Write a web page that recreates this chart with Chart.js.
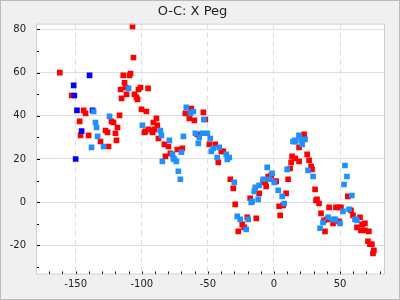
<!DOCTYPE html>
<html>
<head>
<meta charset="utf-8">
<script src="https://cdn.jsdelivr.net/npm/chart.js@4"></script>
<style>
  body { margin: 0; background: #f0f0f0; }
  #wrap { width: 400px; height: 300px; }
</style>
</head>
<body>
<div id="wrap"><canvas id="ocChart" width="400" height="300"></canvas></div>
<script>
// O-C values: [epoch, O-C]
const redPts = [
  [-162, 60], [-114, 58.7], [-109.3, 58.7], [-108.5, 59.6], [-113, 55.3], [-112, 53.1], [-116, 52.2],
  [-101, 53.1], [-102.5, 52.2], [-95.2, 52.7], [-111.5, 49.9], [-105.5, 49.9], [-104, 48.5], [-103.2, 47.6],
  [-115.3, 48.1], [-153, 49.4], [-144, 42.5], [-142.5, 41.1], [-116.8, 40.2], [-100.2, 43], [-96.5, 42],
  [-147, 37.4], [-122.9, 37.4], [-121.4, 36.9], [-118.3, 34.6], [-95, 33.7], [-97.2, 32.8], [-98, 32.3],
  [-146.3, 30.9], [-140.2, 30.9], [-127.4, 33.2], [-125.9, 32.3], [-119.9, 31.9], [-131.2, 28.1],
  [-119.1, 28.6], [-125.1, 25.8], [-107, 81.4], [-106.3, 67], [-88.9, 38.8], [-91.2, 36.9], [-88.2, 35.6],
  [-91.9, 33.2], [-90.4, 33.7], [-91.9, 32.3], [-87.4, 29.5], [-82.9, 26.8], [-79.8, 25.8], [-78.3, 22.6],
  [-82.1, 21.2], [-73.1, 24.4], [-69.3, 24.9], [-62.5, 43.4], [-67, 41.1], [-64, 38.8], [-60.2, 37.9],
  [-53.4, 41.6], [-51.9, 38.3], [-58, 31.4], [-48.9, 26.8], [-44.4, 26.8], [-39.8, 23.5], [-38.3, 23.5],
  [-42.1, 18.4], [-33, 10.6], [-30.8, 6.4], [-4.4, 11.9], [-2.1, 12.4], [-8.2, 9.2], [-6.6, 9.2],
  [-5.9, 7.3], [0.9, 9.6], [1.7, 9.6], [-11.2, 4.1], [-18, 1.8], [-29.3, -1], [9.2, 4.1], [3.9, -1.9],
  [6.9, -1.5], [4.7, -6.1], [10.7, 10.6], [12.2, 15.6], [13, 18.4], [13.7, 21.2], [16, 20.3], [19, 18.9],
  [19, 25.4], [22.8, 31.4], [25.1, 22.1], [26.6, 19.4], [28.1, 16.6], [28.8, 15.2], [31.1, 5.9],
  [31.8, 0.8], [32.6, 1.3], [34.1, -0.6], [35.6, -5.2], [38.6, -13.5], [37.9, -8.4], [40.2, -8],
  [41.7, -2.4], [44.7, -9.8], [49.2, -8.9], [46.9, -2.4], [49.2, -2.4], [50.7, -2.4], [55.9, 2.7],
  [58.3, -3.8], [59.8, -6.1], [65.1, -7], [66.6, -10.3], [68.8, -9.8], [62.8, -11.7], [65.8, -13.1],
  [68.8, -13.1], [71.8, -13.5], [71.1, -18.1], [72.6, -19.5], [74.1, -19.5], [75.6, -22.3], [74.9, -23.7],
  [-20.2, -7], [-13.4, -7.5], [-24, -10.3], [-22.5, -11.7], [-27, -13.5]
];
const bluePts = [
  [-139.5, 58.7], [-151.5, 54.1], [-151, 49.4], [-149, 42.5], [-137.2, 42.5], [-145.5, 32.9], [-150, 20]
];
const dodgerPts = [
  [-110, 52.7], [-136.4, 42], [-124.4, 39.7], [-135, 36.9], [-134.2, 34.6], [-99.5, 35.6], [-133.4, 30.5],
  [-138, 25.4], [-128.9, 25.8], [-85.9, 33.2], [-85.1, 30.9], [-68.5, 30.5], [-79.1, 28.6], [-76.8, 22.1],
  [-70, 23.1], [-76.1, 20.3], [-75.3, 19.8], [-73.8, 18.9], [-84.4, 18.9], [-72.3, 14.3], [-70.8, 10.6],
  [-66.3, 43.9], [-61, 42], [-63.2, 41.1], [-53, 38.3], [-59.5, 31.9], [-56.5, 30], [-54.2, 31.9],
  [-50.4, 31.9], [-57.2, 27.2], [-48.2, 29.5], [-45.9, 24.9], [-41.4, 25.4], [-47.4, 23.5], [-36.1, 22.1],
  [-42.9, 20.7], [-35.3, 19.8], [-33.8, 20.7], [-30, 9.2], [-5.1, 16.1], [-1.4, 13.3], [-8.2, 10.6],
  [-3.6, 10.6], [-14.2, 6.9], [-11.2, 7.8], [-14.9, 5], [-17.2, -0.1], [-16.5, 0.4], [-11.9, 1.3],
  [0.2, 9.2], [3.2, 5.5], [6.2, 2.7], [7.7, -0.6], [10, 15.2], [16, 28], [-27.8, -6.6], [-25.5, -8],
  [-19.5, -8], [-21, -12.6], [18.9, 30.9], [15.9, 28.6], [14.4, 28.1], [23.5, 29.1], [21.3, 26.8],
  [20.5, 28.6], [25.8, 14.7], [29.6, 11.9], [34.9, -12.1], [37.1, -9.4], [40.9, -7], [44.7, -8],
  [46.5, -8], [50, -9.8], [52.2, -4.3], [53.7, 17], [55.2, 11.9], [53, 8.2], [58.9, 3.1], [56.8, -3.3],
  [61.3, -8], [62.8, -8.4]
];

const xTicks = [-150, -100, -50, 0, 50];
const yTicks = [-20, 0, 20, 40, 60, 80];
const xMinor = [-170, -160, -140, -130, -120, -110, -90, -80, -70, -60, -40, -30, -20, -10, 10, 20, 30, 40, 60, 70, 80];
const yMinor = [-30, -10, 10, 30, 50, 70];

function toXY(pts) {
    return pts.map(p => ({ x: p[0], y: p[1] }));
}

// background, plot frame and little inside tick marks
const framePlugin = {
    id: 'frame',
    beforeDraw(chart) {
        const c = chart.ctx;
        const a = chart.chartArea;
        c.save();
        c.fillStyle = '#f0f0f0';
        c.fillRect(0, 0, chart.width, chart.height);
        c.fillStyle = '#ffffff';
        c.fillRect(a.left, a.top, a.right - a.left, a.bottom - a.top);
        c.restore();
    },
    afterDatasetsDraw(chart) {
        const c = chart.ctx;
        const a = chart.chartArea;
        const xs = chart.scales.x, ys = chart.scales.y;
        c.save();
        c.strokeStyle = '#000';
        c.lineWidth = 1;
        c.beginPath();
        xTicks.concat(xMinor).forEach(v => {
            const px = Math.round(xs.getPixelForValue(v)) + 0.5;
            c.moveTo(px, a.bottom);
            c.lineTo(px, a.bottom - 3);
        });
        yTicks.forEach(v => {
            const py = Math.round(ys.getPixelForValue(v)) + 0.5;
            c.moveTo(a.left, py);
            c.lineTo(a.left + 4, py);
        });
        yMinor.forEach(v => {
            const py = Math.round(ys.getPixelForValue(v)) + 0.5;
            c.moveTo(a.left, py);
            c.lineTo(a.left + 3, py);
        });
        c.stroke();
        c.strokeStyle = '#cccccc';
        c.strokeRect(a.left + 0.5, a.top + 0.5, a.right - a.left - 1, a.bottom - a.top - 1);
        c.strokeStyle = '#bbbbbb';
        c.strokeRect(0.5, 0.5, chart.width - 1, chart.height - 1);
        c.restore();
    }
};

const ctx = document.getElementById('ocChart').getContext('2d');

new Chart(ctx, {
    type: 'scatter',
    data: {
        datasets: [
            { label: 'dodger', data: toXY(dodgerPts), backgroundColor: '#1e90ff' },
            { label: 'blue', data: toXY(bluePts), backgroundColor: '#0000ff' },
            { label: 'red', data: toXY(redPts), backgroundColor: '#ff0000' }
        ]
    },
    options: {
        responsive: false,
        animation: false,
        layout: { padding: { left: 0, right: 15, top: 0, bottom: 0 } },
        elements: {
            point: { pointStyle: 'rect', radius: 4, borderWidth: 0, hoverRadius: 4 }
        },
        plugins: {
            legend: { display: false },
            tooltip: { enabled: false },
            title: {
                display: true,
                text: 'O-C: X Peg',
                color: '#222',
                font: { family: 'DejaVu Sans', size: 13, weight: 'normal' },
                padding: { top: 4, bottom: 4 }
            }
        },
        scales: {
            x: {
                type: 'linear',
                min: -180,
                max: 84,
                afterBuildTicks: axis => { axis.ticks = xTicks.map(v => ({ value: v })); },
                afterFit: axis => { axis.height = 25.5; },
                grid: { color: '#dddddd', drawTicks: false },
                border: { display: false, dash: [5, 4] },
                ticks: {
                    color: '#222',
                    padding: 4,
                    maxRotation: 0,
                    font: { family: 'DejaVu Sans', size: 10 }
                }
            },
            y: {
                type: 'linear',
                min: -33.5,
                max: 82.7,
                afterBuildTicks: axis => { axis.ticks = yTicks.map(v => ({ value: v })); },
                afterFit: axis => { axis.width = 36; },
                grid: { color: '#dddddd', drawTicks: false },
                border: { display: false },
                ticks: {
                    color: '#222',
                    padding: 10,
                    font: { family: 'DejaVu Sans', size: 10 }
                }
            }
        }
    },
    plugins: [framePlugin]
});
</script>
</body>
</html>
